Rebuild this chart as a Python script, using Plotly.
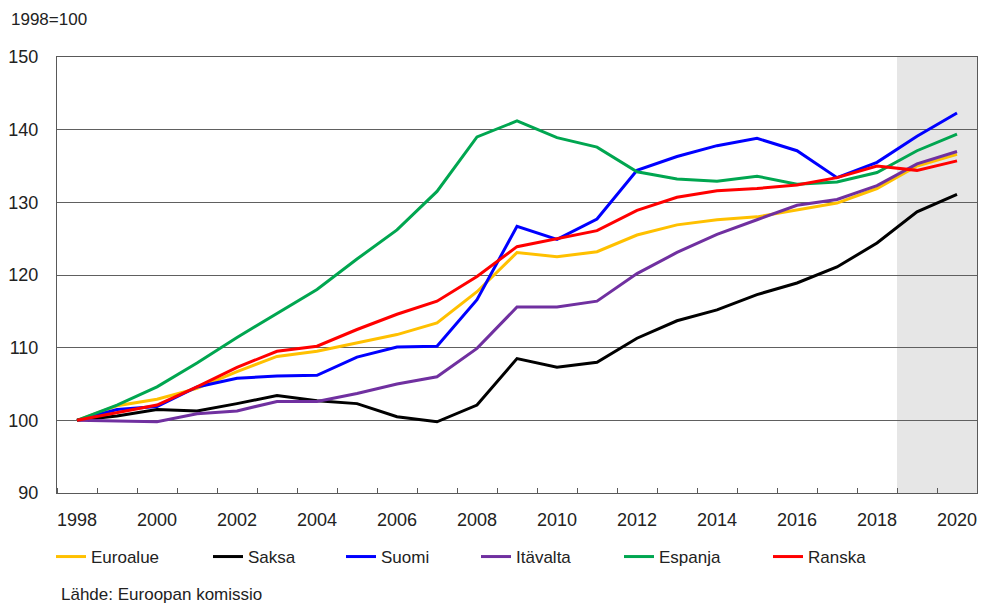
import plotly.graph_objects as go

years = list(range(1998, 2021))

euroalue = [100, 102.0, 102.9, 104.4, 106.7, 108.8, 109.5, 110.7, 111.8, 113.4, 117.7,
            123.1, 122.5, 123.2, 125.5, 126.9, 127.6, 128.0, 128.9, 129.9, 131.9, 135.0, 136.6]
saksa = [100, 100.6, 101.5, 101.3, 102.3, 103.4, 102.7, 102.3, 100.5, 99.8, 102.1,
         108.5, 107.3, 108.0, 111.3, 113.7, 115.2, 117.3, 118.9, 121.1, 124.4, 128.7, 131.1]
suomi = [100, 101.5, 101.9, 104.6, 105.8, 106.1, 106.2, 108.7, 110.1, 110.2, 116.6,
         126.7, 124.9, 127.7, 134.4, 136.3, 137.8, 138.8, 137.1, 133.4, 135.5, 139.1, 142.3]
itavalta = [100, 99.9, 99.8, 100.9, 101.3, 102.6, 102.6, 103.7, 105.0, 106.0, 109.9,
            115.6, 115.6, 116.4, 120.2, 123.1, 125.6, 127.6, 129.6, 130.4, 132.3, 135.3, 137.0]
espanja = [100, 102.1, 104.6, 107.9, 111.4, 114.7, 118.0, 122.2, 126.2, 131.5, 139.0,
           141.2, 138.9, 137.6, 134.2, 133.2, 132.9, 133.6, 132.5, 132.8, 134.1, 137.1, 139.4]
ranska = [100, 101.0, 102.1, 104.6, 107.3, 109.5, 110.2, 112.5, 114.6, 116.4, 119.8,
          123.9, 125.0, 126.1, 128.9, 130.7, 131.6, 131.9, 132.4, 133.4, 135.0, 134.4, 135.7]

series = [
    ("Euroalue", euroalue, "#FFC000"),
    ("Saksa", saksa, "#000000"),
    ("Suomi", suomi, "#0000FF"),
    ("Itävalta", itavalta, "#7030A0"),
    ("Espanja", espanja, "#00A650"),
    ("Ranska", ranska, "#FF0000"),
]

FONT = "Liberation Sans, Arial, sans-serif"
W, H = 981, 605
ML, MR, MT, MB = 57, 4, 57, 112
PW = W - ML - MR
PH = H - MT - MB

# left edge (px) of each legend entry's line
legend_px = [61, 218, 351, 486, 629, 778]

fig = go.Figure()

# forecast years shaded
fig.add_shape(
    type="rect", xref="x", yref="paper",
    x0=2018.5, x1=2020.5, y0=0, y1=1,
    fillcolor="#E6E6E6", line_width=0, layer="below",
)

legends = {}
for i, (name, values, color) in enumerate(series):
    key = "legend" if i == 0 else f"legend{i + 1}"
    fig.add_trace(
        go.Scatter(
            x=years, y=values, name=name, mode="lines",
            line={"color": color, "width": 3},
            legend=key,
        )
    )
    legends[key] = {
        "x": (legend_px[i] - 10 - ML) / PW, "y": -(557 - MT - PH) / PH,
        "xanchor": "left", "yanchor": "middle",
        "orientation": "h", "bgcolor": "rgba(0,0,0,0)",
        "font": {"size": 17, "color": "#222"}, "itemwidth": 30,
    }

fig.update_xaxes(
    range=[1997.5, 2020.5],
    tickvals=years[::2],
    ticks="",
    showgrid=False,
    showline=True, mirror=True, linecolor="#595959", linewidth=1,
    minor={"tick0": 1998.5, "dtick": 1, "ticks": "inside", "ticklen": 5,
           "tickcolor": "#595959", "showgrid": False},
    ticklabelstandoff=10,
    tickfont={"size": 18, "color": "#222"},
    automargin=False,
)
fig.update_yaxes(
    range=[90, 150],
    tickvals=[90, 100, 110, 120, 130, 140, 150],
    ticks="",
    showgrid=True, gridcolor="#606060", gridwidth=1,
    zeroline=False,
    showline=True, mirror=True, linecolor="#595959", linewidth=1,
    ticklabelstandoff=14,
    tickfont={"size": 18, "color": "#222"},
    automargin=False,
)

fig.add_annotation(
    text="1998=100", xref="paper", yref="paper",
    x=(9 - ML) / PW, y=1 + (MT - 20) / PH, xanchor="left", yanchor="middle",
    showarrow=False, font={"size": 17, "color": "#222"},
)
fig.add_annotation(
    text="Lähde: Euroopan komissio", xref="paper", yref="paper",
    x=(59 - ML) / PW, y=-(594 - MT - PH) / PH, xanchor="left", yanchor="middle",
    showarrow=False, font={"size": 17, "color": "#222"},
)

fig.update_layout(
    width=W, height=H,
    margin={"l": ML, "r": MR, "t": MT, "b": MB},
    paper_bgcolor="white", plot_bgcolor="white",
    font={"family": FONT, "size": 17, "color": "#222"},
    showlegend=True,
    **legends,
)

fig.write_html(
    "out.html",
    config={"displayModeBar": False},
    post_script="document.body.style.margin='0';document.body.style.overflow='hidden';",
)
